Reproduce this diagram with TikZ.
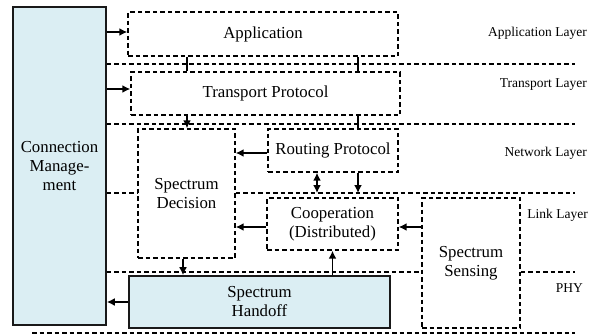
\documentclass[tikz,border=0pt]{standalone}
\usepackage{fontspec}
\setmainfont{Liberation Serif}
\usetikzlibrary{arrows.meta}
\definecolor{cmblue}{RGB}{219,238,243}
\tikzset{
  dbox/.style={draw, dash pattern=on 4.5pt off 3pt, line width=1.4pt, inner sep=0pt, align=center, font=\fontsize{16.8}{19}\selectfont},
  sbox/.style={draw=black!90, fill=cmblue, line width=1.6pt, inner sep=0pt, align=center, font=\fontsize{16.8}{19}\selectfont},
  arr/.style={line width=1.8pt, -{Latex[length=8pt,width=8pt]}},
  darr/.style={line width=1.8pt, {Latex[length=8pt,width=8pt]}-{Latex[length=8pt,width=8pt]}},
  conn/.style={line width=1.8pt},
  layer/.style={dash pattern=on 4.5pt off 3pt, line width=1.4pt},
  lbl/.style={anchor=east, inner sep=0pt, font=\fontsize{13.5}{15}\selectfont}
}
\begin{document}
\begin{tikzpicture}[x=1pt, y=-1pt]
\useasboundingbox (0,0) rectangle (603,335);
% boxes
\node[sbox, minimum width=93pt, minimum height=318pt] (cm) at (59.5,166) {Connection\\Manage-\\ment};
\node[dbox, minimum width=270pt, minimum height=44pt] (app) at (263,34) {Application};
\node[dbox, minimum width=269pt, minimum height=43pt] (trans) at (265.5,93.5) {Transport Protocol};
\node[dbox, minimum width=97pt, minimum height=129pt] (dec) at (186.5,193.5) {Spectrum\\Decision};
\node[dbox, minimum width=130pt, minimum height=43pt] (rout) at (333,150.5) {Routing Protocol};
\node[dbox, minimum width=131pt, minimum height=52pt] (coop) at (332.5,224) {Cooperation\\(Distributed)};
\node[sbox, minimum width=261pt, minimum height=52pt] (hand) at (259.5,302) {Spectrum\\Handoff};
\node[dbox, minimum width=98pt, minimum height=130pt] (sens) at (471,263) {Spectrum\\Sensing};
% layer lines
\coordinate (rend) at (575,0);
\coordinate (lstart) at (32,333);
\draw[layer] (cm.east |- 0,64) -- (rend |- 0,64);
\draw[layer] (cm.east |- 0,124) -- (rend |- 0,124);
\draw[layer] (cm.east |- 0,193) -- (dec.west |- 0,193);
\draw[layer] (dec.east |- 0,193) -- (rend |- 0,193);
\draw[layer] (cm.east |- 0,272) -- (sens.west |- 0,272);
\draw[layer] (sens.east |- 0,272) -- (rend |- 0,272);
\draw[layer] (lstart) -- (rend |- lstart);
% labels
\node[lbl] (l1) at (587,33) {Application Layer};
\node[lbl] (l2) at (587,85) {Transport Layer};
\node[lbl] (l3) at (587,153) {Network Layer};
\node[lbl] (l4) at (588,215) {Link Layer};
\node[lbl] (l5) at (583,288) {PHY};
% connectors
\coordinate (xa) at (187,0);
\coordinate (xb) at (358,0);
\coordinate (xc) at (183,0);
\coordinate (xd) at (317,0);
\coordinate (ya) at (0,32);
\coordinate (yb) at (0,89);
\coordinate (yc) at (0,153);
\coordinate (yd) at (0,227);
\coordinate (ye) at (0,193);
\draw[arr] (cm.east |- ya) -- (app.west |- ya);
\draw[arr] (cm.east |- yb) -- (trans.west |- yb);
\draw[arr] (hand.west) -- (cm.east |- hand.west);
\draw[conn] (app.south -| xa) -- (trans.north -| xa);
\draw[conn] (app.south -| xb) -- (trans.north -| xb);
\draw[arr] (trans.south -| xa) -- (dec.north -| xa);
\draw[conn] (trans.south -| xb) -- (rout.north -| xb);
\draw[arr] (rout.west |- yc) -- (dec.east |- yc);
\draw[arr] (coop.west |- yd) -- (dec.east |- yd);
\draw[arr] (sens.west |- yd) -- (coop.east |- yd);
\draw[arr] (dec.south -| xc) -- (hand.north -| xc);
\draw[arr] (hand.north -| coop.south) -- (coop.south);
\draw[darr] (rout.south -| xd) -- (xd |- ye);
\draw[arr] (rout.south -| xb) -- (xb |- ye);
\end{tikzpicture}
\end{document}
